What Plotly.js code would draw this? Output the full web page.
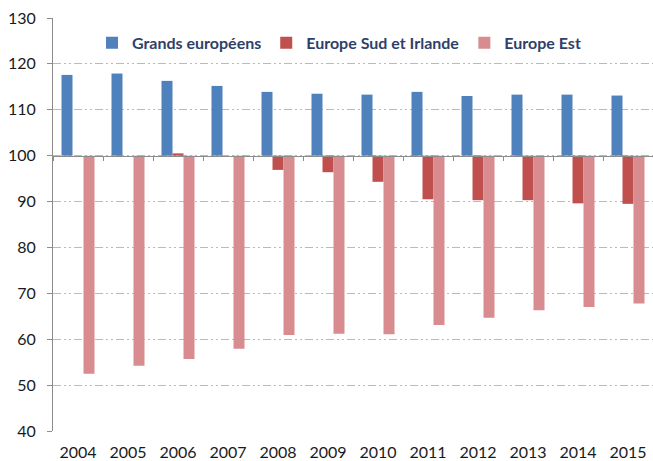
<!DOCTYPE html>
<html>
<head>
<meta charset="utf-8">
<script src="https://cdn.plot.ly/plotly-3.0.1.min.js"></script>
<style>html,body{margin:0;padding:0;background:#fff;}#chart{width:653px;height:461px;}</style>
</head>
<body>
<div id="chart"></div>
<script>
const years = ["2004","2005","2006","2007","2008","2009","2010","2011","2012","2013","2014","2015"];
const grandsEuropeens = [117.6,117.9,116.3,115.2,113.9,113.5,113.3,113.9,113.0,113.3,113.3,113.1];
const europeSudIrlande = [100.0,100.0,100.5,100.0,96.9,96.4,94.3,90.5,90.3,90.3,89.6,89.5];
const europeEst = [52.5,54.2,55.7,57.9,60.9,61.2,61.1,63.1,64.7,66.3,67.0,67.8];
const baseValue = 100;
const seriesNames = ["Grands européens","Europe Sud et Irlande","Europe Est"];
const colors = ["#4f81bd","#c0504d","#d98c8f"];

const allSeries = [grandsEuropeens, europeSudIrlande, europeEst];
const traces = allSeries.map((vals, i) => ({
  type: "bar",
  name: seriesNames[i],
  x: years,
  y: vals.map(v => v - baseValue),
  base: baseValue,
  marker: {color: colors[i], line: {width: 0}},
  hoverinfo: "x+name"
}));
// invisible helper trace so the baseline axis (at 100) knows the categories
traces.push({
  type: "scatter", mode: "markers", x: years, y: years.map(() => baseValue),
  xaxis: "x2", marker: {opacity: 0}, showlegend: false, hoverinfo: "skip"
});

const yMin = 40, yMax = 130;
const layout = {
  width: 653, height: 461,
  margin: {l: 53, r: 0, t: 18, b: 30},
  paper_bgcolor: "#ffffff", plot_bgcolor: "#ffffff",
  barmode: "group", bargap: 0.34, bargroupgap: 0,
  showlegend: true,
  legend: {
    orientation: "h", x: 0.065, xanchor: "left", y: 0.94, yanchor: "middle",
    font: {family: "Lato", size: 16, color: "#2f3f6b", weight: "bold"},
    bgcolor: "rgba(0,0,0,0)", itemwidth: 30, traceorder: "normal"
  },
  xaxis: {
    type: "category", range: [-0.5, 11.5], showline: false, showgrid: false,
    ticks: "", zeroline: false, ticklabelstandoff: 10,
    tickfont: {family: "Lato", size: 16, color: "#1a1a1a"}
  },
  xaxis2: {
    type: "category", overlaying: "x", anchor: "free",
    position: (baseValue - yMin) / (yMax - yMin), side: "bottom",
    range: [-0.5, 11.5], showline: true, linecolor: "#8c8c8c", linewidth: 1,
    ticks: "outside", tickson: "boundaries", ticklen: 4, tickcolor: "#8c8c8c",
    showticklabels: false, showgrid: false, zeroline: false
  },
  yaxis: {
    range: [yMin, yMax], dtick: 10, tick0: 40,
    showline: true, linecolor: "#8c8c8c", linewidth: 1,
    ticks: "outside", ticklen: 5, tickcolor: "#8c8c8c",
    showgrid: true, gridcolor: "#aebad8", gridwidth: 1,
    griddash: "8px,3px,2px,3px,2px,3px",
    zeroline: false, ticklabelstandoff: 8,
    tickfont: {family: "Lato", size: 16, color: "#1a1a1a"}
  }
};

Plotly.newPlot("chart", traces, layout, {displayModeBar: false, staticPlot: true});
</script>
</body>
</html>
